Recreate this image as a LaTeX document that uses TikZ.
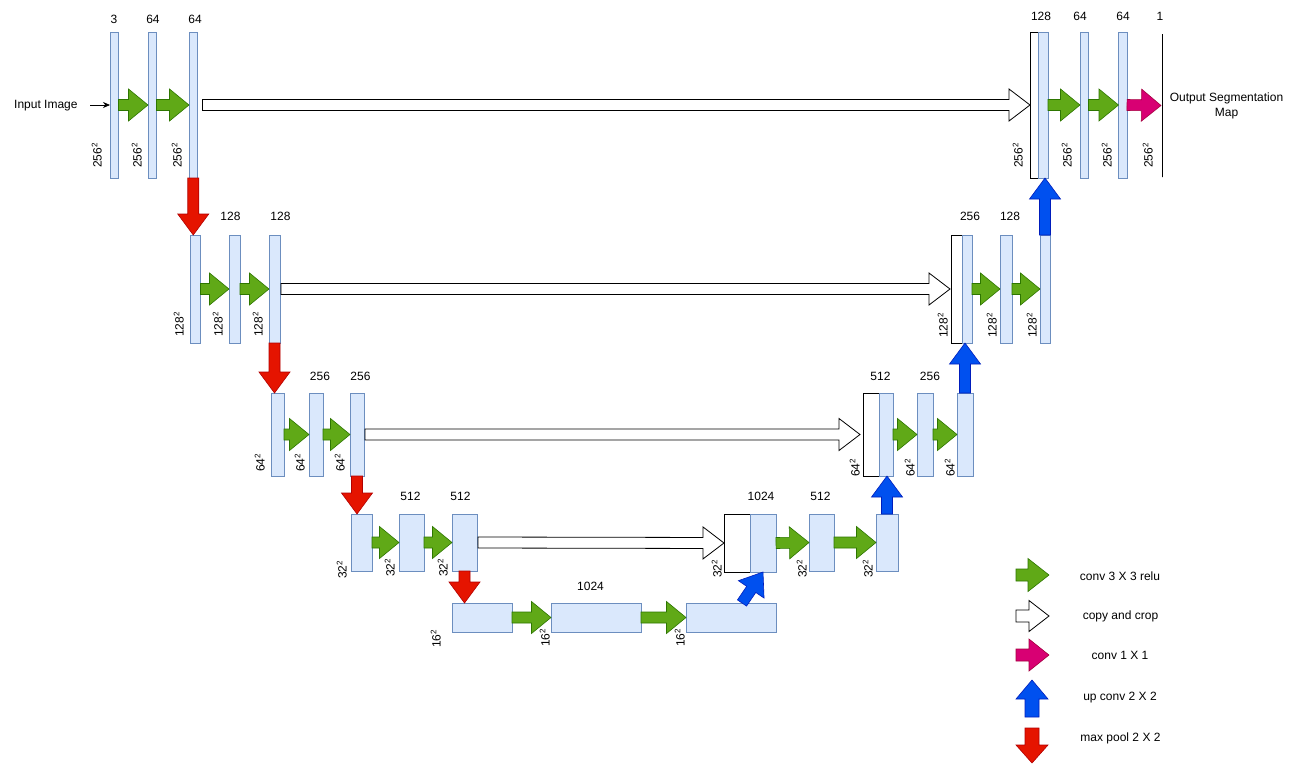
\documentclass[tikz,border=0pt]{standalone}
\usepackage{fontspec}
\setmainfont{Liberation Sans}
\usetikzlibrary{calc,arrows.meta}
\definecolor{barfill}{HTML}{DAE8FC}
\definecolor{bardraw}{HTML}{6C8EBF}
\definecolor{gfill}{HTML}{60A917}
\definecolor{gdraw}{HTML}{2D7600}
\definecolor{rfill}{HTML}{E51400}
\definecolor{rdraw}{HTML}{B20000}
\definecolor{bfill}{HTML}{0050EF}
\definecolor{bdraw}{HTML}{001DBC}
\definecolor{pfill}{HTML}{D80073}
\definecolor{pdraw}{HTML}{A50040}
% block arrow: #1 style, #2 tail coord, #3 tip coord, #4 shaft half width, #5 head half width, #6 head length
\newcommand\barr[6]{%
 \path[#1] let \p1=#2, \p2=#3,
   \n1={veclen(\x2-\x1,\y2-\y1)},
   \n2={(\x2-\x1)/\n1}, \n3={(\y2-\y1)/\n1}, \n4={\n1-(#6)} in
   ({\x1-(#4)*(\n3)},{\y1+(#4)*(\n2)})
   -- ({\x1+(\n4)*(\n2)-(#4)*(\n3)},{\y1+(\n4)*(\n3)+(#4)*(\n2)})
   -- ({\x1+(\n4)*(\n2)-(#5)*(\n3)},{\y1+(\n4)*(\n3)+(#5)*(\n2)})
   -- (\x2,\y2)
   -- ({\x1+(\n4)*(\n2)+(#5)*(\n3)},{\y1+(\n4)*(\n3)-(#5)*(\n2)})
   -- ({\x1+(\n4)*(\n2)+(#4)*(\n3)},{\y1+(\n4)*(\n3)-(#4)*(\n2)})
   -- ({\x1+(#4)*(\n3)},{\y1-(#4)*(\n2)}) -- cycle;}
\newcommand\garrow[2]{\barr{garr}{#1}{#2}{5.5}{16}{19.5}}
\newcommand\carrow[2]{\barr{carr}{#1}{#2}{5.5}{16}{21}}
\newcommand\rarrow[2]{\barr{rarr}{#1}{#2}{5.5}{15.5}{21}}
\newcommand\uarrow[2]{\barr{uarr}{#1}{#2}{5.5}{15.5}{21}}
\begin{document}
\begin{tikzpicture}[x=1pt,y=-1pt,font=\fontsize{12}{14.4}\selectfont,
  bar/.style={draw=bardraw,fill=barfill,line width=0.8pt,inner sep=0pt,outer sep=0pt,anchor=north west},
  wbox/.style={draw=black,fill=white,line width=0.8pt,inner sep=0pt,outer sep=0pt,anchor=north west},
  lbl/.style={inner sep=0pt},
  dimlbl/.style={inner sep=0pt,rotate=90,anchor=south west},
  garr/.style={fill=gfill,draw=gdraw,line width=0.6pt},
  carr/.style={fill=white,draw=black,line width=0.8pt},
  rarr/.style={fill=rfill,draw=rdraw,line width=0.6pt},
  uarr/.style={fill=bfill,draw=bdraw,line width=0.6pt},
  parr/.style={fill=pfill,draw=pdraw,line width=0.6pt}]
\path[fill=white] (0,0) rectangle (1296,764);
\useasboundingbox (0,0) rectangle (1296,764);

% ---------- level 1 ----------
\node[bar,minimum width=8.5pt,minimum height=146pt] (b11) at (110,32) {};
\node[bar,minimum width=8.5pt,minimum height=146pt] (b12) at (148,32) {};
\node[bar,minimum width=8.5pt,minimum height=146pt] (b13) at (189,32) {};
\node[wbox,minimum width=8pt,minimum height=146pt] (w1) at (1030,32) {};
\node[bar,minimum width=10pt,minimum height=146pt] (b1r1) at (1038,32) {};
\node[bar,minimum width=8.5pt,minimum height=146pt] (b1r2) at (1080,32) {};
\node[bar,minimum width=8.5pt,minimum height=146pt] (b1r3) at (1118.5,32) {};
\node[draw,line width=0.8pt,minimum width=0pt,minimum height=143pt,inner sep=0pt,outer sep=0pt,anchor=north] (omap) at (1162,34) {};

% ---------- level 2 ----------
\node[bar,minimum width=10.5pt,minimum height=108pt] (b21) at (190,235) {};
\node[bar,minimum width=11pt,minimum height=108pt] (b22) at (229,235) {};
\node[bar,minimum width=11pt,minimum height=108pt] (b23) at (269,235) {};
\node[wbox,minimum width=11pt,minimum height=108pt] (w2) at (951,235) {};
\node[bar,minimum width=10pt,minimum height=108pt] (b2r1) at (962,235) {};
\node[bar,minimum width=12pt,minimum height=108pt] (b2r2) at (1000,235) {};
\node[bar,minimum width=10pt,minimum height=108pt] (b2r3) at (1040,235) {};

% ---------- level 3 ----------
\node[bar,minimum width=13pt,minimum height=83pt] (b31) at (271,393) {};
\node[bar,minimum width=14pt,minimum height=83pt] (b32) at (309,393) {};
\node[bar,minimum width=14pt,minimum height=83pt] (b33) at (350,393) {};
\node[wbox,minimum width=16pt,minimum height=83pt] (w3) at (863,393) {};
\node[bar,minimum width=14pt,minimum height=83pt] (b3r1) at (879,393) {};
\node[bar,minimum width=16pt,minimum height=83pt] (b3r2) at (917,393) {};
\node[bar,minimum width=16pt,minimum height=83pt] (b3r3) at (957,393) {};

% ---------- level 4 ----------
\node[bar,minimum width=21pt,minimum height=57pt] (b41) at (351,514) {};
\node[bar,minimum width=25pt,minimum height=57pt] (b42) at (399,514) {};
\node[bar,minimum width=25pt,minimum height=57pt] (b43) at (452,514) {};
\node[wbox,minimum width=26pt,minimum height=58pt] (w4) at (724,514) {};
\node[bar,minimum width=26pt,minimum height=58pt] (b4r1) at (750,514) {};
\node[bar,minimum width=25pt,minimum height=57pt] (b4r2) at (809,514) {};
\node[bar,minimum width=22pt,minimum height=57pt] (b4r3) at (876,514) {};

% ---------- level 5 ----------
\node[bar,minimum width=60pt,minimum height=29pt] (b51) at (452,603) {};
\node[bar,minimum width=90pt,minimum height=29pt] (b52) at (551,603) {};
\node[bar,minimum width=90pt,minimum height=29pt] (b53) at (686,603) {};

% ---------- channel labels ----------
\node[lbl] (c11) at (114,19) {3};
\node[lbl] (c12) at (153,19) {64};
\node[lbl] (c13) at (195,19) {64};
\node[lbl] (c1r1) at (1041,16.5) {128};
\node[lbl] (c1r2) at (1080,16.5) {64};
\node[lbl] (c1r3) at (1123,16.5) {64};
\node[lbl] (c1r4) at (1160,16.5) {1};
\node[lbl] (c22) at (230.5,216) {128};
\node[lbl] (c23) at (280.5,216) {128};
\node[lbl] (c2r1) at (970,216) {256};
\node[lbl] (c2r2) at (1010,216) {128};
\node[lbl] (c32) at (320,376) {256};
\node[lbl] (c33) at (360.5,376) {256};
\node[lbl] (c3r1) at (880.5,376) {512};
\node[lbl] (c3r2) at (930,376) {256};
\node[lbl] (c42) at (410.5,496) {512};
\node[lbl] (c43) at (460.5,496) {512};
\node[lbl] (c4r1) at (761,496) {1024};
\node[lbl] (c4r2) at (820.5,496) {512};
\node[lbl] (c52) at (590.5,586) {1024};

% ---------- size labels ----------
\node[dimlbl] (d11) at (102,168) {256\textsuperscript{2}};
\node[dimlbl] (d12) at (142,168) {256\textsuperscript{2}};
\node[dimlbl] (d13) at (182,168) {256\textsuperscript{2}};
\node[dimlbl] (d1r1) at (1023,168) {256\textsuperscript{2}};
\node[dimlbl] (d1r2) at (1072,168) {256\textsuperscript{2}};
\node[dimlbl] (d1r3) at (1112,168) {256\textsuperscript{2}};
\node[dimlbl] (d1r4) at (1153,168) {256\textsuperscript{2}};
\node[dimlbl] (d21) at (184,337) {128\textsuperscript{2}};
\node[dimlbl] (d22) at (223,337) {128\textsuperscript{2}};
\node[dimlbl] (d23) at (263,337) {128\textsuperscript{2}};
\node[dimlbl] (d2r1) at (948,338) {128\textsuperscript{2}};
\node[dimlbl] (d2r2) at (997,338) {128\textsuperscript{2}};
\node[dimlbl] (d2r3) at (1037,338) {128\textsuperscript{2}};
\node[dimlbl] (d31) at (265,472) {64\textsuperscript{2}};
\node[dimlbl] (d32) at (305,472) {64\textsuperscript{2}};
\node[dimlbl] (d33) at (345,472) {64\textsuperscript{2}};
\node[dimlbl] (d3r1) at (860,477) {64\textsuperscript{2}};
\node[dimlbl] (d3r2) at (915,477) {64\textsuperscript{2}};
\node[dimlbl] (d3r3) at (955,477) {64\textsuperscript{2}};
\node[dimlbl] (d41) at (347,579) {32\textsuperscript{2}};
\node[dimlbl] (d42) at (395,577) {32\textsuperscript{2}};
\node[dimlbl] (d43) at (448,577) {32\textsuperscript{2}};
\node[dimlbl] (d4r1) at (722,578) {32\textsuperscript{2}};
\node[dimlbl] (d4r2) at (807,578) {32\textsuperscript{2}};
\node[dimlbl] (d4r3) at (873,578) {32\textsuperscript{2}};
\node[dimlbl] (d51) at (441,648) {16\textsuperscript{2}};
\node[dimlbl] (d52) at (550,647) {16\textsuperscript{2}};
\node[dimlbl] (d53) at (685,647) {16\textsuperscript{2}};

% ---------- input / output text ----------
\node[lbl,anchor=west] (inp) at (14,106) {Input Image};
\coordinate (inarr) at (90,105);
\draw[line width=0.7pt,-{Stealth[length=7pt,width=6pt]}] (inarr) -- (b11.west);
\node[lbl,align=center] (outp) at (1226.5,105.8) {Output Segmentation\\Map};

% ---------- conv 3x3 arrows ----------
\garrow{(b11.east)}{(b12.west)}
\garrow{(b12.east)}{(b13.west)}
\garrow{(b1r1.east)}{(b1r2.west)}
\garrow{(b1r2.east)}{(b1r3.west)}
\garrow{(b21.east)}{(b22.west)}
\garrow{(b22.east)}{(b23.west)}
\garrow{(b2r1.east)}{(b2r2.west)}
\garrow{(b2r2.east)}{(b2r3.west)}
\garrow{(b31.east)}{(b32.west)}
\garrow{(b32.east)}{(b33.west)}
\garrow{(b3r1.east)}{(b3r2.west)}
\garrow{(b3r2.east)}{(b3r3.west)}
\garrow{(b41.east)}{(b42.west)}
\garrow{(b42.east)}{(b43.west)}
\garrow{(b4r1.east)}{(b4r2.west)}
\garrow{(b4r2.east)}{(b4r3.west)}
\garrow{(b51.east)}{(b52.west)}
\garrow{(b52.east)}{(b53.west)}
% conv 1x1
\barr{parr}{(b1r3.east)}{([xshift=-1pt]omap.west)}{5.5}{16}{19.5}

% ---------- copy and crop ----------
\carrow{([xshift=5pt]b13.east)}{(w1.west)}
\carrow{([xshift=1pt]b23.east)}{([xshift=-1pt]w2.west)}
\carrow{([xshift=1pt]b33.east)}{([xshift=-3pt]w3.west)}
\carrow{([xshift=1pt]b43.east)}{(w4.west)}

% ---------- max pool ----------
\rarrow{(b13.south)}{(b13.south |- b21.north)}
\rarrow{(b23.south)}{(b23.south |- b31.north)}
\rarrow{(b33.south)}{(b33.south |- b41.north)}
\rarrow{(b43.south)}{(b43.south |- b51.north)}

% ---------- up conv ----------
\uarrow{(b2r3.north)}{(b2r3.north |- b1r1.south)}
\uarrow{(b3r3.north)}{(b3r3.north |- b2r1.south)}
\uarrow{(b4r3.north)}{(b4r3.north |- b3r1.south)}
\coordinate (dtail) at ($(b53.north west)+(56,0)$);
\uarrow{(dtail)}{(b4r1.south)}

% ---------- legend ----------
\coordinate (lg1a) at (1016,575); \coordinate (lg1b) at (1049,575);
\coordinate (lg2a) at (1016,616); \coordinate (lg2b) at (1049,616);
\coordinate (lg3a) at (1016,655); \coordinate (lg3b) at (1049,655);
\coordinate (lg4a) at (1032,717); \coordinate (lg4b) at (1032,680);
\coordinate (lg5a) at (1032,728); \coordinate (lg5b) at (1032,763);
\barr{garr}{(lg1a)}{(lg1b)}{6}{16.5}{21}
\barr{carr}{(lg2a)}{(lg2b)}{6}{15.5}{20}
\barr{parr}{(lg3a)}{(lg3b)}{6}{16}{20}
\barr{uarr}{(lg4a)}{(lg4b)}{7}{16}{19}
\barr{rarr}{(lg5a)}{(lg5b)}{7}{16}{18}
\node[lbl] (lt1) at (1120,576) {conv 3 X 3 relu};
\node[lbl] (lt2) at (1120.5,616) {copy and crop};
\node[lbl] (lt3) at (1120,655.5) {conv 1 X 1};
\node[lbl] (lt4) at (1120,698) {up conv 2 X 2};
\node[lbl] (lt5) at (1120.5,738.5) {max pool 2 X 2};
\end{tikzpicture}
\end{document}
